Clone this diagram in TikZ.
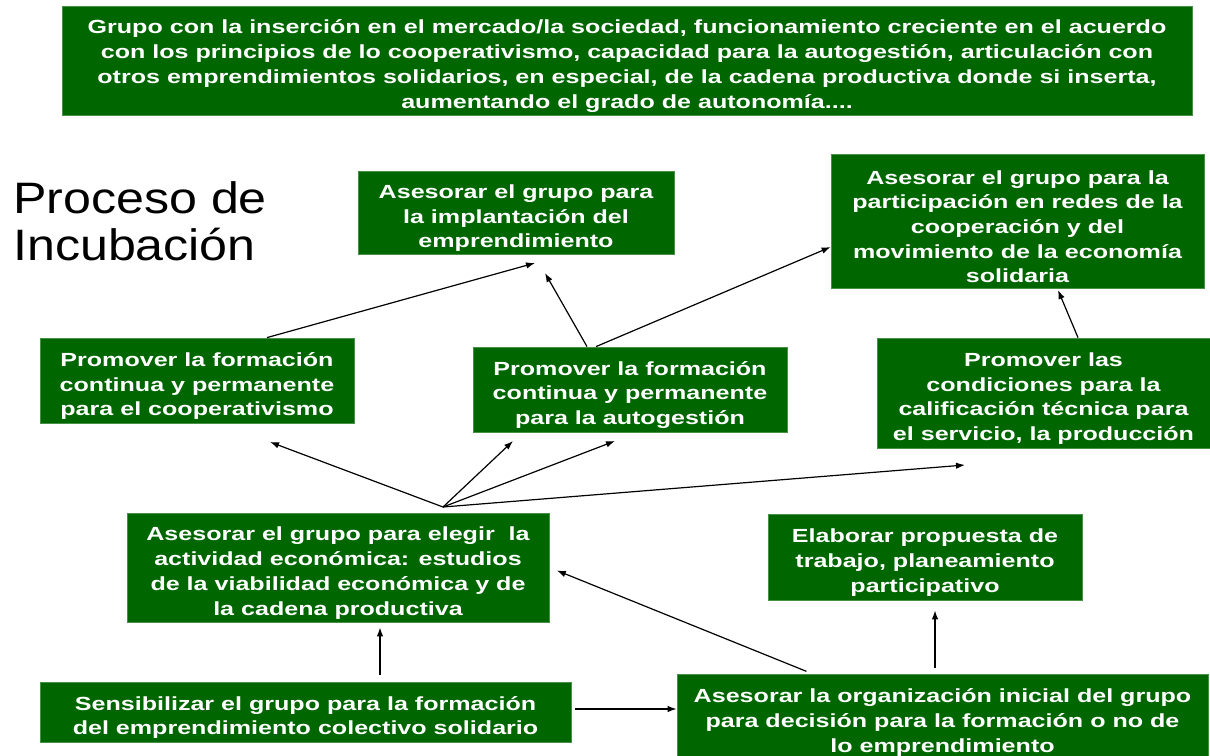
\documentclass[tikz,border=0pt]{standalone}
\usepackage{fontspec}
\setmainfont{Liberation Sans}
\newfontfamily\cajafont{Liberation Sans}[FakeStretch=1.32]
\newfontfamily\titulofont{Liberation Sans}[FakeStretch=1.14]
\usetikzlibrary{arrows.meta}
\definecolor{verdecaja}{RGB}{0,102,0}
\definecolor{bordecaja}{RGB}{70,145,70}
\newcommand{\alto}{\rule{0pt}{25pt}}

\begin{document}
\begin{tikzpicture}[x=1pt,y=-1pt,
		caja/.style={fill=verdecaja,draw=bordecaja,line width=0.8pt,text=white,align=center,inner sep=0pt,font=\cajafont\bfseries\fontsize{19}{24.7}\selectfont},
		flecha/.style={-{Latex[length=9pt,width=6.5pt]},line width=1.2pt}]
			\useasboundingbox (0,0) rectangle (1210,755);
			\node[caja,minimum width=1130pt,minimum height=109pt] (meta) at (627,60.5) {\alto Grupo con la inserción en el mercado/la sociedad, funcionamiento creciente en el acuerdo\\con los principios de lo cooperativismo, capacidad para la autogestión, articulación con\\otros emprendimientos solidarios, en especial, de la cadena productiva donde si inserta,\\aumentando el grado de autonomía....};
			\node[anchor=north west,inner sep=0pt,align=left,font=\titulofont\fontsize{44}{47}\selectfont] (titulo) at (13,181) {Proceso de\\Incubación};
			\node[caja,minimum width=316pt,minimum height=83pt] (impl) at (516,212.5) {\alto Asesorar el grupo para\\la implantación del\\emprendimiento};
			\node[caja,minimum width=373pt,minimum height=134pt] (redes) at (1017.5,221) {\alto Asesorar el grupo para la\\participación en redes de la\\cooperación y del\\movimiento de la economía\\solidaria};
			\node[caja,minimum width=314pt,minimum height=85pt] (coop) at (197,380.5) {\alto Promover la formación\\continua y permanente\\para el cooperativismo};
			\node[caja,minimum width=314pt,minimum height=85pt] (autog) at (630,389.5) {\alto Promover la formación\\continua y permanente\\para la autogestión};
			\node[caja,minimum width=333pt,minimum height=110pt] (calif) at (1043.5,393) {\alto Promover las\\condiciones para la\\calificación técnica para\\el servicio, la producción};
			\node[caja,minimum width=422pt,minimum height=109pt] (elegir) at (338,567.5) {\alto Asesorar el grupo para elegir \ la\\actividad económica: estudios\\de la viabilidad económica y de\\la cadena productiva};
			\node[caja,minimum width=314pt,minimum height=86pt] (elab) at (925,557) {\alto Elaborar propuesta de\\trabajo, planeamiento\\participativo};
			\node[caja,minimum width=531pt,minimum height=60pt] (sens) at (305.5,712) {\alto Sensibilizar el grupo para la formación\\del emprendimiento colectivo solidario};
			\node[caja,minimum width=531pt,minimum height=86pt] (org) at (942.5,717) {\alto Asesorar la organización inicial del grupo\\para decisión para la formación o no de\\lo emprendimiento};
			\coordinate (hub) at (443,507);
			\coordinate (t1) at (535,263);
			\coordinate (t2) at (545,273);
			\coordinate (t4) at (1058,290);
			\coordinate (t5) at (270,442);
			\coordinate (t6) at (513,441);
			\coordinate (t7) at (615,441);
			\coordinate (t8) at (965,465);
			\draw[flecha] ([xshift=70pt]coop.north) -- (t1);
			\draw[flecha] ([xshift=-43pt]autog.north) -- (t2);
			\draw[flecha] ([xshift=-34pt]autog.north) -- ([yshift=-26pt]redes.west);
			\draw[flecha] ([xshift=34.5pt]calif.north) -- (t4);
			\draw[flecha] (hub) -- (t5);
			\draw[flecha] (hub) -- (t6);
			\draw[flecha] (hub) -- (t7);
			\draw[flecha] (hub) -- (t8);
			\draw[flecha,shorten <=7pt,shorten >=5pt] ([xshift=74.5pt]sens.north) -- ([xshift=42pt]elegir.south);
			\draw[flecha,shorten <=4pt] ([yshift=3pt]sens.east) -- ([yshift=8pt]org.west);
			\draw[flecha,shorten <=6pt,shorten >=8pt] ([xshift=-130.5pt]org.north) -- (elegir.east);
			\draw[flecha,shorten <=6pt,shorten >=10pt] ([xshift=-7.5pt]org.north) -- ([xshift=10pt]elab.south);
		\end{tikzpicture}
\end{document}
